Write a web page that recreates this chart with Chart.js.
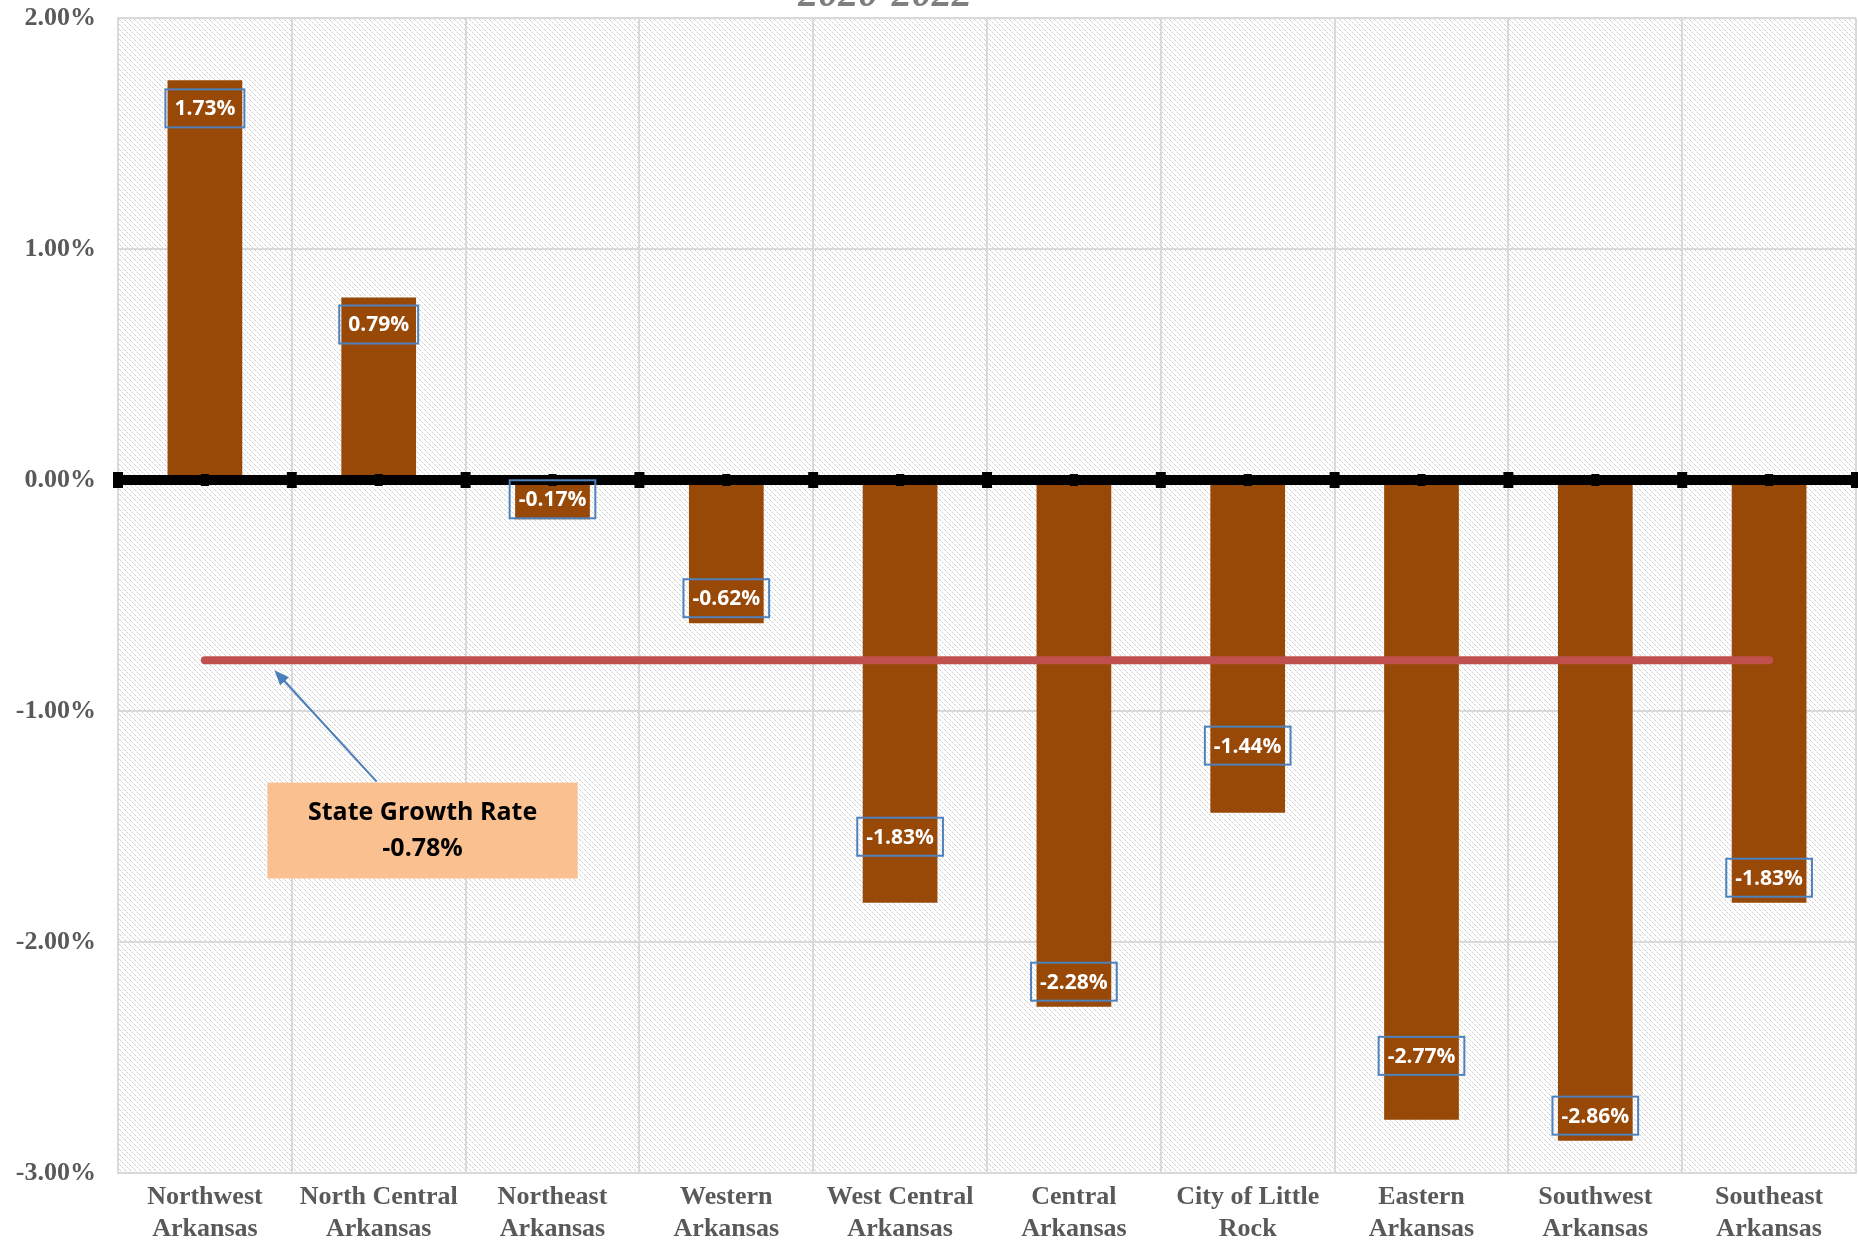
<!DOCTYPE html>
<html>
<head>
<meta charset="utf-8">
<script src="https://cdn.jsdelivr.net/npm/chart.js@4.4.1/dist/chart.umd.min.js"></script>
<style>
  html, body { margin: 0; padding: 0; background: #ffffff; }
  #wrap { width: 1858px; height: 1243px; }
</style>
</head>
<body>
<div id="wrap"><canvas id="growthChart"></canvas></div>
<script>
// Regional growth rates, 2020-2022
const regions = [
    ['Northwest', 'Arkansas'],
    ['North Central', 'Arkansas'],
    ['Northeast', 'Arkansas'],
    ['Western', 'Arkansas'],
    ['West Central', 'Arkansas'],
    ['Central', 'Arkansas'],
    ['City of Little', 'Rock'],
    ['Eastern', 'Arkansas'],
    ['Southwest', 'Arkansas'],
    ['Southeast', 'Arkansas']
];
const growthRates = [1.73, 0.79, -0.17, -0.62, -1.83, -2.28, -1.44, -2.77, -2.86, -1.83];
const stateRate = -0.78;
const stateLine = [-0.78, -0.78, -0.78, -0.78, -0.78, -0.78, -0.78, -0.78, -0.78, -0.78];
const yTicks = [2, 1, 0, -1, -2, -3];

// how far each value label sits inside its bar end (px)
const labelInset = [28, 27, 20, 25, 66, 25, 67, 64, 25, 25];

const barBrown = '#984807';
const stateRed = '#C0504D';
const axisGrey = '#595959';
const gridGrey = '#d9d9d9';

// diagonal hatch for the plot area
function makeHatch() {
    const c = document.createElement('canvas');
    c.width = 5;
    c.height = 5;
    const g = c.getContext('2d');
    g.fillStyle = '#ffffff';
    g.fillRect(0, 0, 5, 5);
    for (let i = 0; i < 5; i++) {
        g.fillStyle = i % 2 === 0 ? '#cdcdcd' : '#ececec';
        g.fillRect(i, i, 1, 1);
    }
    return c;
}

const hatchPlugin = {
    id: 'hatch',
    beforeDraw(chart) {
        const { ctx, chartArea } = chart;
        ctx.save();
        ctx.fillStyle = '#ffffff';
        ctx.fillRect(0, 0, chart.width, chart.height);
        ctx.fillStyle = ctx.createPattern(makeHatch(), 'repeat');
        ctx.fillRect(chartArea.left, chartArea.top, chartArea.right - chartArea.left, chartArea.bottom - chartArea.top);
        ctx.restore();
    }
};

const overlayPlugin = {
    id: 'overlay',
    afterDatasetsDraw(chart) {
        const { ctx, chartArea, scales } = chart;
        const x = scales.x;
        const y = scales.y;
        const y0 = y.getPixelForValue(0);
        const catW = x.getPixelForValue(1) - x.getPixelForValue(0);
        ctx.save();

        // thick zero line with tick squares
        ctx.fillStyle = '#000000';
        ctx.fillRect(chartArea.left, y0 - 5, chartArea.right - chartArea.left, 10);
        for (let i = 0; i <= regions.length; i++) {
            const bx = x.getPixelForValue(i) - catW / 2;
            ctx.fillRect(bx - 5, y0 - 8, 10, 16);
            if (i < regions.length) {
                ctx.fillRect(x.getPixelForValue(i) - 4, y0 - 6, 8, 12);
            }
        }

        // value labels
        ctx.font = 'bold 21px "Open Sans"';
        ctx.textAlign = 'center';
        ctx.textBaseline = 'middle';
        growthRates.forEach((v, i) => {
            const cx = x.getPixelForValue(i);
            const end = y.getPixelForValue(v);
            const cy = v >= 0 ? end + labelInset[i] : end - labelInset[i];
            const txt = v.toFixed(2) + '%';
            const w = ctx.measureText(txt).width + 18;
            ctx.strokeStyle = '#4F81BD';
            ctx.lineWidth = 2;
            ctx.strokeRect(cx - w / 2, cy - 19, w, 38);
            ctx.fillStyle = '#ffffff';
            ctx.fillText(txt, cx, cy + 1);
        });

        // state growth rate callout
        const boxL = x.getPixelForValue(0.36);
        const boxR = x.getPixelForValue(2.145);
        const boxT = y.getPixelForValue(-1.31);
        const boxB = y.getPixelForValue(-1.725);
        ctx.fillStyle = '#FAC090';
        ctx.fillRect(boxL, boxT, boxR - boxL, boxB - boxT);
        ctx.fillStyle = '#000000';
        ctx.font = 'bold 25px "Open Sans"';
        const mid = (boxL + boxR) / 2;
        ctx.fillText('State Growth Rate', mid, (boxT + boxB) / 2 - 18);
        ctx.fillText(stateRate.toFixed(2) + '%', mid, (boxT + boxB) / 2 + 18);

        // arrow from callout to the state line
        const ax = x.getPixelForValue(0.988);
        const ay = boxT - 1;
        const tx = x.getPixelForValue(0.40);
        const ty = y.getPixelForValue(stateRate) + 10;
        const ang = Math.atan2(ty - ay, tx - ax);
        ctx.strokeStyle = '#4A7EBB';
        ctx.fillStyle = '#4A7EBB';
        ctx.lineWidth = 2;
        ctx.beginPath();
        ctx.moveTo(ax, ay);
        ctx.lineTo(tx - 12 * Math.cos(ang), ty - 12 * Math.sin(ang));
        ctx.stroke();
        ctx.beginPath();
        ctx.moveTo(tx, ty);
        ctx.lineTo(tx - 15 * Math.cos(ang) + 6 * Math.sin(ang), ty - 15 * Math.sin(ang) - 6 * Math.cos(ang));
        ctx.lineTo(tx - 15 * Math.cos(ang) - 6 * Math.sin(ang), ty - 15 * Math.sin(ang) + 6 * Math.cos(ang));
        ctx.closePath();
        ctx.fill();

        // title, mostly cropped off the top
        ctx.fillStyle = '#7f7f7f';
        ctx.font = 'italic bold 40px "Liberation Serif"';
        ctx.textBaseline = 'alphabetic';
        ctx.fillText('2020-2022', 885, 6);

        ctx.restore();
    }
};

const ctx = document.getElementById('growthChart').getContext('2d');
new Chart(ctx, {
    data: {
        labels: regions,
        datasets: [
            {
                type: 'line',
                label: 'State',
                data: stateLine,
                borderColor: stateRed,
                borderWidth: 8,
                borderCapStyle: 'round',
                pointRadius: 0,
                order: 0
            },
            {
                type: 'bar',
                label: 'Growth',
                data: growthRates,
                backgroundColor: barBrown,
                borderWidth: 0,
                barPercentage: 0.43,
                categoryPercentage: 1.0,
                order: 1
            }
        ]
    },
    options: {
        responsive: true,
        maintainAspectRatio: false,
        animation: false,
        layout: {
            padding: { top: 18, right: 2, left: 0, bottom: 0 }
        },
        plugins: {
            legend: { display: false },
            tooltip: { enabled: false }
        },
        scales: {
            x: {
                offset: true,
                afterFit: (s) => { s.height = 70; s.paddingLeft = 0; s.paddingRight = 0; },
                grid: {
                    offset: true,
                    color: gridGrey,
                    lineWidth: 2,
                    drawTicks: false
                },
                border: { color: gridGrey, width: 2 },
                ticks: {
                    padding: 9,
                    maxRotation: 0,
                    autoSkip: false,
                    color: axisGrey,
                    font: { family: '"Liberation Serif"', size: 26, weight: 'bold', lineHeight: 1.2 }
                }
            },
            y: {
                min: Math.min(...yTicks),
                max: Math.max(...yTicks),
                afterFit: (s) => { s.width = 118; s.paddingTop = 0; s.paddingBottom = 0; },
                grid: {
                    color: gridGrey,
                    lineWidth: 2,
                    drawTicks: false
                },
                border: { color: gridGrey, width: 2 },
                ticks: {
                    stepSize: 1,
                    padding: 22,
                    color: axisGrey,
                    font: { family: '"Liberation Serif"', size: 26, weight: 'bold' },
                    callback: (v) => v.toFixed(2) + '%'
                }
            }
        }
    },
    plugins: [hatchPlugin, overlayPlugin]
});
</script>
</body>
</html>
